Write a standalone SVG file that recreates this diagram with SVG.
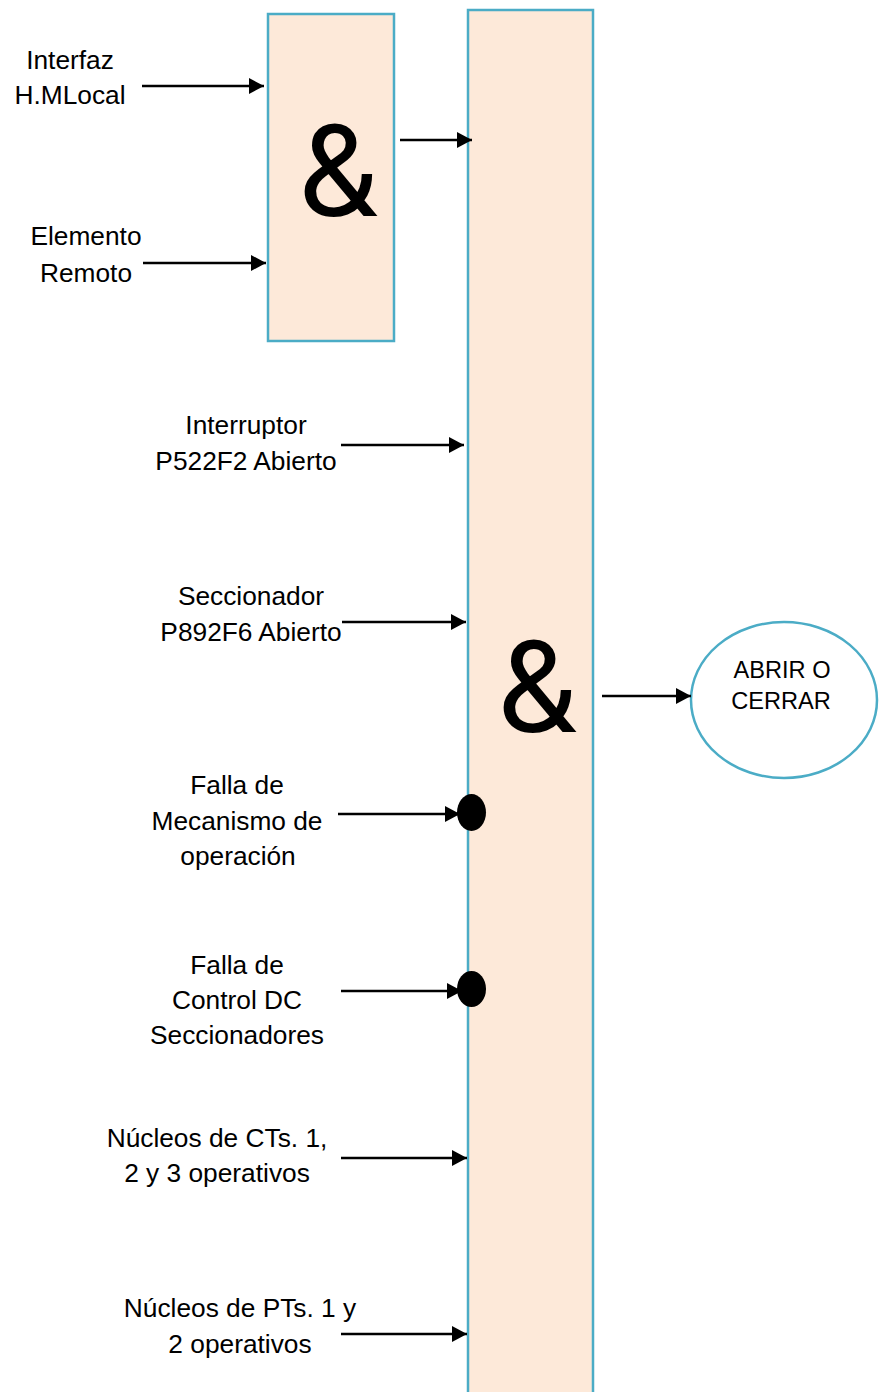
<svg xmlns="http://www.w3.org/2000/svg" width="881" height="1392" viewBox="0 0 881 1392">
<defs>
<marker id="ah" markerWidth="16" markerHeight="16" viewBox="0 0 16 16" refX="15" refY="8" orient="auto" markerUnits="userSpaceOnUse">
<path d="M0,0 L15,8 L0,16 Z" fill="#000"/>
</marker>
</defs>
<style>
.box{fill:#FDE9D9;stroke:#4BACC6;stroke-width:2.5}
.lbl{font-family:"Liberation Sans",Arial,sans-serif;font-size:26.3px;fill:#000;text-anchor:middle}
.amp{font-family:Roboto,"Liberation Sans",sans-serif;font-size:128px;fill:#000;text-anchor:middle}
.el{font-family:"Liberation Sans",Arial,sans-serif;font-size:23.6px;fill:#000;text-anchor:middle}
.c{stroke:#000;stroke-width:2.5;fill:none;marker-end:url(#ah)}
</style>
<rect width="881" height="1392" fill="#fff"/>
<g id="and-small">
<rect class="box" x="268" y="14" width="126" height="327"/>
<text class="amp" x="338" y="216">&amp;</text>
</g>
<g id="and-big">
<rect class="box" x="468" y="10" width="125" height="1400"/>
<text class="amp" x="537" y="732">&amp;</text>
</g>
<g id="output">
<ellipse cx="784" cy="700" rx="93" ry="78" fill="#fff" stroke="#4BACC6" stroke-width="2.5"/>
<text class="el" x="782" y="678">ABRIR O</text>
<text class="el" x="781" y="709">CERRAR</text>
</g>
<g id="in-interfaz">
<text class="lbl" x="70" y="69">Interfaz</text>
<text class="lbl" x="70" y="104">H.MLocal</text>
</g>
<g id="in-elemento">
<text class="lbl" x="86" y="245">Elemento</text>
<text class="lbl" x="86" y="282">Remoto</text>
</g>
<g id="in-interruptor">
<text class="lbl" x="246" y="434">Interruptor</text>
<text class="lbl" x="246" y="470">P522F2 Abierto</text>
</g>
<g id="in-seccionador">
<text class="lbl" x="251" y="605">Seccionador</text>
<text class="lbl" x="251" y="641">P892F6 Abierto</text>
</g>
<g id="in-falla-mecanismo">
<text class="lbl" x="237" y="794">Falla de</text>
<text class="lbl" x="237" y="830">Mecanismo de</text>
<text class="lbl" x="238" y="865">operación</text>
</g>
<g id="in-falla-control">
<text class="lbl" x="237" y="974">Falla de</text>
<text class="lbl" x="237" y="1009">Control DC</text>
<text class="lbl" x="237" y="1044">Seccionadores</text>
</g>
<g id="in-cts">
<text class="lbl" x="217" y="1147">Núcleos de CTs. 1,</text>
<text class="lbl" x="217" y="1182">2 y 3 operativos</text>
</g>
<g id="in-pts">
<text class="lbl" x="240" y="1317">Núcleos de PTs. 1 y</text>
<text class="lbl" x="240" y="1353">2 operativos</text>
</g>
<g id="connectors">
<line class="c" x1="142" y1="86" x2="264" y2="86"/>
<line class="c" x1="143" y1="263" x2="266" y2="263"/>
<line class="c" x1="400" y1="140" x2="472" y2="140"/>
<line class="c" x1="341" y1="445" x2="464" y2="445"/>
<line class="c" x1="342" y1="622" x2="466" y2="622"/>
<line class="c" x1="602" y1="696" x2="691" y2="696"/>
<line class="c" x1="338" y1="814" x2="460" y2="814"/>
<line class="c" x1="341" y1="991" x2="462" y2="991"/>
<line class="c" x1="341" y1="1158" x2="467" y2="1158"/>
<line class="c" x1="341" y1="1334" x2="467" y2="1334"/>
<ellipse cx="471.5" cy="812.5" rx="14.5" ry="18.5" fill="#000"/>
<ellipse cx="471.5" cy="989" rx="14.5" ry="18" fill="#000"/>
</g>
</svg>
